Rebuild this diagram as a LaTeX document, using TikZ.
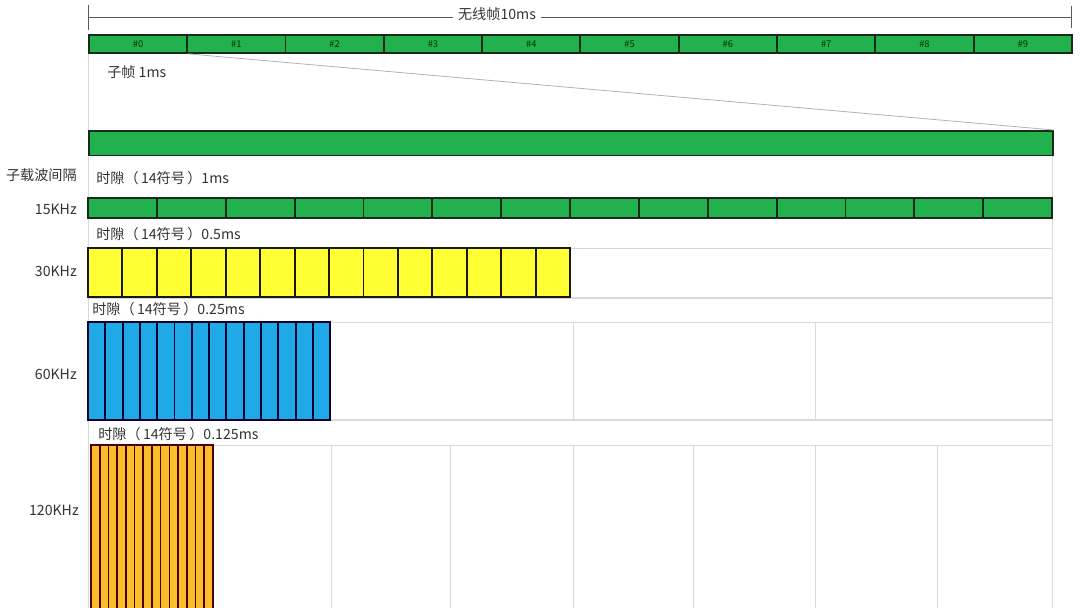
\documentclass[tikz,border=0pt]{standalone}
\usepackage{fontspec}
\setmainfont{Noto Sans CJK SC}
\definecolor{cgreen}{HTML}{22B14C}
\definecolor{cyellow}{HTML}{FFFF33}
\definecolor{cblue}{HTML}{1FA9E6}
\definecolor{corange}{HTML}{F8BE2C}
\definecolor{clight}{HTML}{D9D9D9}
\definecolor{cdark}{HTML}{1A2A1A}
\definecolor{ctxt}{HTML}{333333}
\newcommand{\slotlbl}[1]{时隙（\,14符号\,）#1}
\begin{document}
\begin{tikzpicture}[x=0.75pt,y=-0.75pt,
  lbl/.style={font=\fontsize{10.6}{12}\selectfont, text=ctxt, inner sep=0pt},
  fcell/.style={draw=cdark, fill=cgreen, line width=1.4pt, inner sep=0pt,
    minimum width=73.7pt, minimum height=13.5pt, anchor=north west,
    font=\fontsize{7}{7}\selectfont, text=green!20!black},
  bar/.style={draw=cdark, fill=cgreen, line width=1.4pt},
  faint/.style={draw=clight, line width=0.7pt},
  ruler/.style={draw=black!65, line width=0.7pt}]
\clip (0,0) rectangle (1080,607);
\fill[white] (0,0) rectangle (1080,607);

% faint background frames
\draw[faint] (88,52) -- (88,155);
\draw[faint] (88,155) rectangle (1052,198);
\draw[faint] (88,218) rectangle (1052,248);
\draw[faint] (88,248) rectangle (1052,297);
\draw[faint] (88,298) rectangle (1052,322);
\draw[faint] (88,322) rectangle (1052,419);
\foreach \x in {573,815} \draw[faint] (\x,322) -- (\x,419);
\draw[faint] (88,420) rectangle (1052,445);
\draw[faint] (88,445) rectangle (1052,620);
\foreach \x in {331,450,573,693,815,937} \draw[faint] (\x,445) -- (\x,620);

% radio frame ruler
\coordinate (rl) at (88,17);
\coordinate (rr) at (1071,17);
\draw[ruler] (rl) -- (rr);
\draw[ruler] (88,5) -- (88,30);
\draw[ruler] (1071,6) -- (1071,28);
\node[lbl, fill=white, inner xsep=4pt] (rf) at (497,14) {无线帧10ms};

% radio frame cells
\foreach \i in {0,...,9}
  \node[fcell] (f\i) at ({88+98.3*\i},34) {\#\i};

% subframe bar
\node[draw=cdark, fill=cgreen, line width=1.2pt, inner sep=0pt,
  minimum width=723pt, minimum height=18.5pt, anchor=north west] (sf) at (88,130) {};
\draw[draw=black!30, line width=0.6pt] (f0.south east) -- (sf.north east);
\node[lbl, anchor=west] (sfl) at (107,72) {子帧 1ms};

% left labels
\node[lbl, anchor=east] (scs) at (77,175) {子载波间隔};
\node[lbl, anchor=east] (k15) at (77,209) {15KHz};
\node[lbl, anchor=east] (k30) at (77,271) {30KHz};
\node[lbl, anchor=east] (k60) at (77,374) {60KHz};
\node[lbl, anchor=east] (k120) at (79,510) {120KHz};

% slot labels
\node[lbl, anchor=west] (s15) at (96,178) {\slotlbl{1ms}};
\node[lbl, anchor=west] (s30) at (96,234) {\slotlbl{0.5ms}};
\node[lbl, anchor=west] (s60) at (92,309) {\slotlbl{0.25ms}};
\node[lbl, anchor=west] (s120) at (98,434) {\slotlbl{0.125ms}};

% 15KHz symbols
\foreach \i in {0,...,13}
  \draw[bar] ({88+68.857*\i},198) rectangle ({88+68.857*(\i+1)},218);
% 30KHz symbols
\foreach \i in {0,...,13}
  \draw[draw=black!90, fill=cyellow, line width=1.4pt] ({88+34.43*\i},248) rectangle ({88+34.43*(\i+1)},297);
% 60KHz symbols
\foreach \i in {0,...,13}
  \draw[draw=black!80!blue, fill=cblue, line width=1.4pt] ({88+17.3*\i},322) rectangle ({88+17.3*(\i+1)},420);
% 120KHz symbols
\foreach \i in {0,...,13}
  \draw[draw=black!70!red, fill=corange, line width=1.2pt] ({91+8.71*\i},445) rectangle ({91+8.71*(\i+1)},620);
\end{tikzpicture}
\end{document}
